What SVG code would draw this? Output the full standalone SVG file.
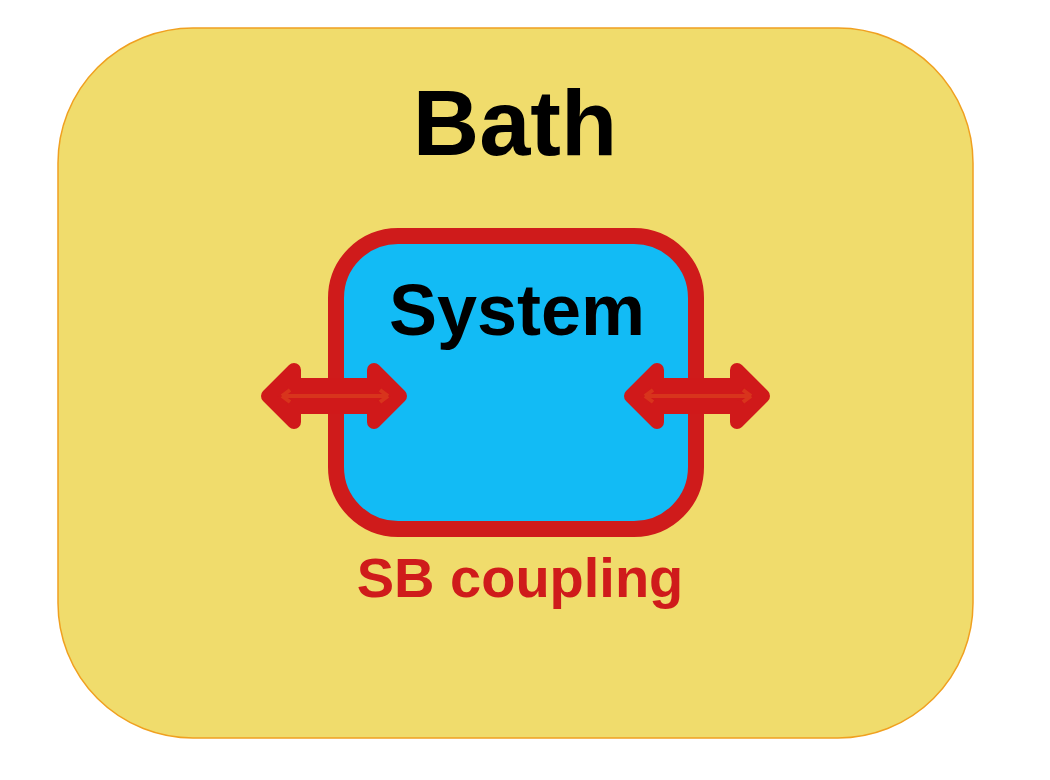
<svg xmlns="http://www.w3.org/2000/svg" width="1050" height="780" viewBox="0 0 1050 780">
<style>
.t{font-family:"Liberation Sans",Arial,sans-serif;font-weight:bold}
.arr{fill:#d0191a;stroke:#d0191a;stroke-width:14;stroke-linejoin:round}
.in{stroke:#d8341c;stroke-width:4;fill:none}
</style>
<rect width="1050" height="780" fill="#fff"/>
<g id="bath">
<rect x="58" y="28" width="915" height="710" rx="135" fill="#f0dc6c" stroke="#f0a020" stroke-width="1.5"/>
<text class="t" x="515" y="155" font-size="92" text-anchor="middle">Bath</text>
</g>
<g id="system">
<rect x="336" y="236" width="360" height="293" rx="62" fill="#12bbf5" stroke="#cf1b1b" stroke-width="16"/>
<text class="t" x="517" y="335" font-size="72" text-anchor="middle">System</text>
</g>
<g id="connectors">
<g id="c1">
<polygon class="arr" points="268,396 294,370 294,385 374,385 374,370 400,396 374,422 374,407 294,407 294,422"/>
<path class="in" d="M282 396H388M282 396l8-6M282 396l8 6M388 396l-8-6M388 396l-8 6"/>
</g>
<g id="c2" transform="translate(363,0)">
<polygon class="arr" points="268,396 294,370 294,385 374,385 374,370 400,396 374,422 374,407 294,407 294,422"/>
<path class="in" d="M282 396H388M282 396l8-6M282 396l8 6M388 396l-8-6M388 396l-8 6"/>
</g>
</g>
<g id="label">
<text class="t" x="520" y="597" font-size="56" fill="#cf1b1b" text-anchor="middle">SB coupling</text>
</g>
</svg>
